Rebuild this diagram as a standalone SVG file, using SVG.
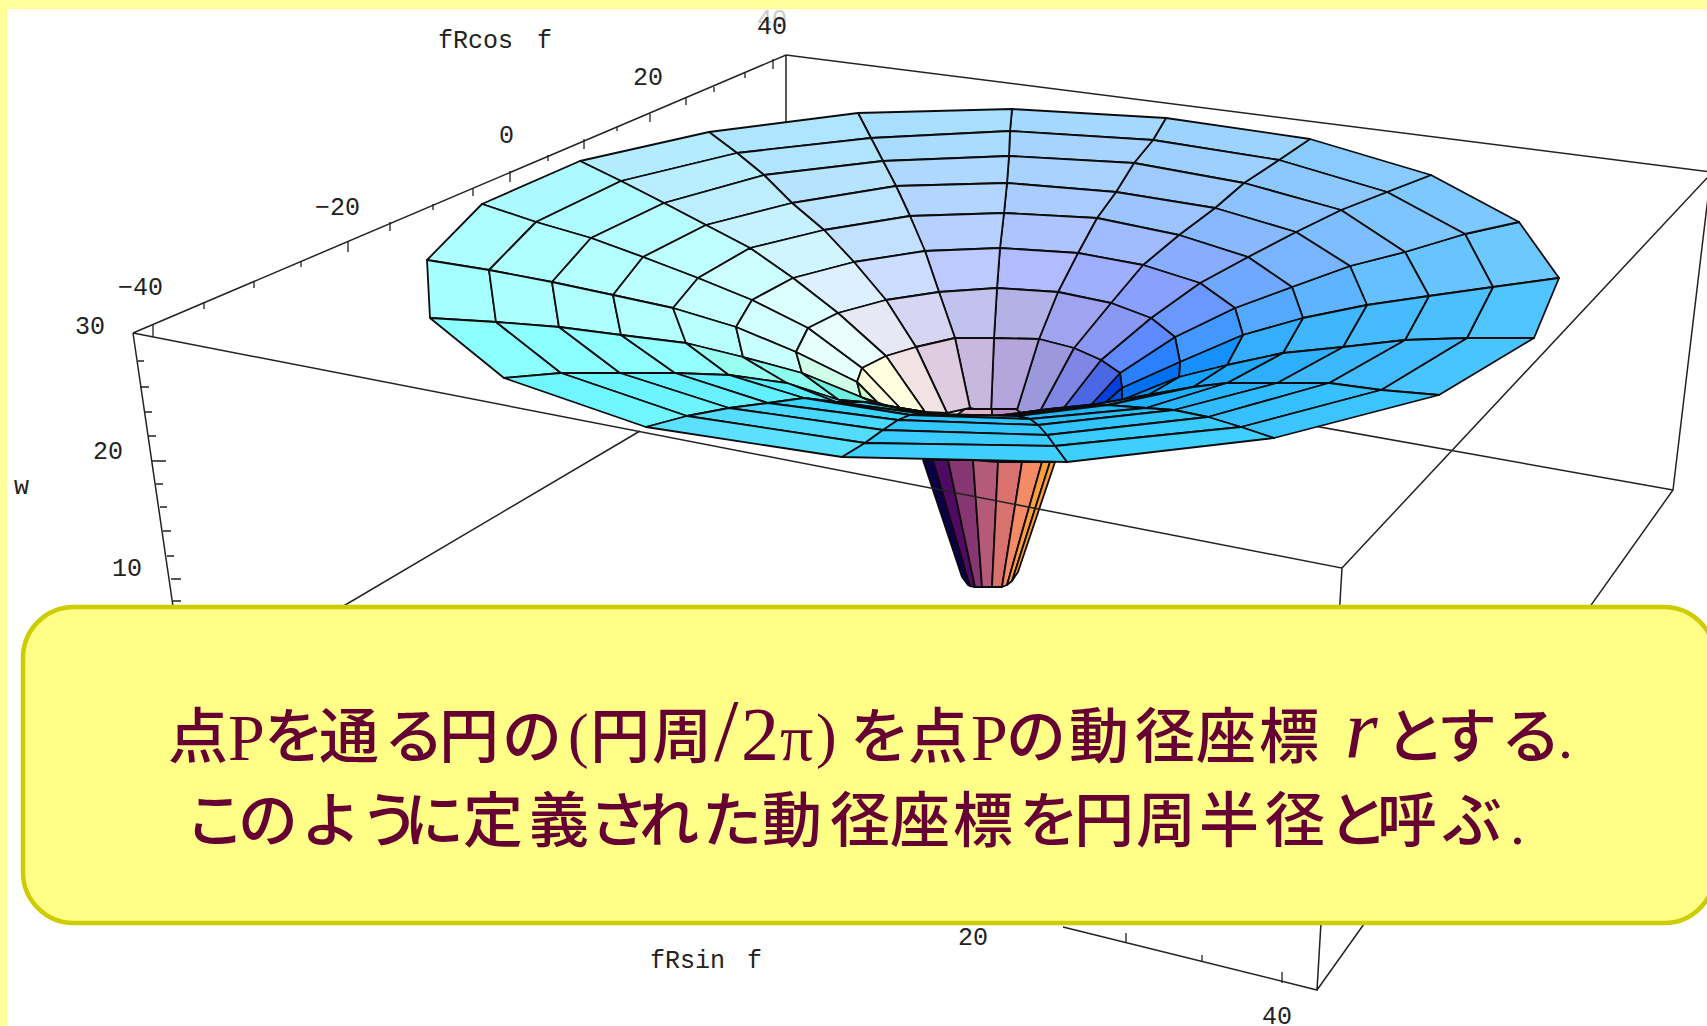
<svg xmlns="http://www.w3.org/2000/svg" width="1707" height="1026" viewBox="0 0 1707 1026">
<style>
.ax{fill:none;stroke:#222;stroke-width:1.5}
.tk{fill:none;stroke:#222;stroke-width:1.3}
.m{stroke:#0c0c0c;stroke-width:1.8;stroke-linejoin:round}
.lb{font-family:"Liberation Mono",monospace;font-size:25px;fill:#222}
.cap{font-family:"Noto Sans CJK JP",sans-serif;font-size:60px;font-weight:500;fill:#660033}
.l{font-family:"Liberation Serif",serif;font-weight:400}
</style>
<rect width="1707" height="1026" fill="#ffff99"/>
<rect x="7" y="9" width="1700" height="1017" fill="#fff"/>
<g id="stem" class="m">
<polygon fill="#0a0048" points="923,460 933,460 970,586 968,585 962,577"/>
<polygon fill="#500a64" points="933,460 948,460 975,587 970,586"/>
<polygon fill="#863670" points="948,460 973,460 982,587 975,587"/>
<polygon fill="#b55a78" points="973,460 998,462 992,587 982,587"/>
<polygon fill="#d9716f" points="998,462 1022,462 1002,587 992,587"/>
<polygon fill="#f58a66" points="1022,462 1042,462 1007,585 1002,587"/>
<polygon fill="#ff9f3c" points="1042,462 1050,462 1012,581 1007,585"/>
<polygon fill="#ff9f3c" points="1050,462 1055,462 1018,572 1012,581"/>
</g>
<g id="axes">
<path class="ax" d="M133,333L786,55L1711,172M786,55V122M133,333L1342,568L1317,990L1063,927M133,333L175,620M640,431L313,624M1707,178L1342,568M1711,172L1673,490L1317,990M1673,490L787,332"/>
<path class="tk" d="M510,171V182M584,139V149M650,114V122M686,98V105M714,87V92M745,73V78M773,59V69M617,127V131M548,155V161M473,188V196M433,204V210M390,222V231M348,242V252M301,261V267M254,282V288M204,302V309M153,325V337"/>
<path class="tk" d="M138,361H144M140,387H149M144,412H152M148,436H156M152,461H166M156,484H163M160,507H167M163,531H171M167,556H174M171,579H181M173,601H181"/>
<path class="tk" d="M1126,933V942M1202,955V962M1282,972V983"/>
</g>
<g id="surface" class="m">
<polygon fill="#6cc8ff" points="1559,278 1519,222 1465,234 1493,287"/>
<polygon fill="#68c4ff" points="1493,287 1465,234 1405,252 1429,296"/>
<polygon fill="#66c0ff" points="1429,296 1405,252 1350,266 1367,305"/>
<polygon fill="#5eb4ff" points="1367,305 1350,266 1292,287 1303,318"/>
<polygon fill="#54a8ff" points="1303,318 1292,287 1235,308 1243,335"/>
<polygon fill="#4298ff" points="1243,335 1235,308 1175,337 1180,362"/>
<polygon fill="#2a80ff" points="1180,362 1175,337 1120,373 1122,388"/>
<polygon fill="#0440e0" points="1122,388 1120,373 1089,407 1105,403"/>

<polygon fill="#7cc8ff" points="1519,222 1431,175 1387,192 1465,234"/>
<polygon fill="#7ec4ff" points="1465,234 1387,192 1341,210 1405,252"/>
<polygon fill="#7cbeff" points="1405,252 1341,210 1296,232 1350,266"/>
<polygon fill="#78b4ff" points="1350,266 1296,232 1248,257 1292,287"/>
<polygon fill="#70a8ff" points="1292,287 1248,257 1200,283 1235,308"/>
<polygon fill="#6a98ff" points="1235,308 1200,283 1151,318 1175,337"/>
<polygon fill="#5f8aff" points="1175,337 1151,318 1101,360 1120,373"/>
<polygon fill="#4a68e4" points="1120,373 1101,360 1062,410 1089,407"/>

<polygon fill="#88ccff" points="1431,175 1310,139 1279,160 1387,192"/>
<polygon fill="#8cc8ff" points="1387,192 1279,160 1244,183 1341,210"/>
<polygon fill="#8cc2ff" points="1341,210 1244,183 1215,208 1296,232"/>
<polygon fill="#88b8ff" points="1296,232 1215,208 1179,235 1248,257"/>
<polygon fill="#88acff" points="1248,257 1179,235 1143,265 1200,283"/>
<polygon fill="#8aa0ff" points="1200,283 1143,265 1111,303 1151,318"/>
<polygon fill="#8a98f4" points="1151,318 1111,303 1074,348 1101,360"/>
<polygon fill="#7f86e4" points="1101,360 1074,348 1039,413 1062,410"/>

<polygon fill="#9cd4ff" points="1310,139 1166,118 1153,140 1279,160"/>
<polygon fill="#9ed0ff" points="1279,160 1153,140 1134,163 1244,183"/>
<polygon fill="#9ecaff" points="1244,183 1134,163 1116,192 1215,208"/>
<polygon fill="#9cc4ff" points="1215,208 1116,192 1097,218 1179,235"/>
<polygon fill="#a0bcff" points="1179,235 1097,218 1078,253 1143,265"/>
<polygon fill="#a0aeff" points="1143,265 1078,253 1058,292 1111,303"/>
<polygon fill="#a0a4f0" points="1111,303 1058,292 1039,339 1074,348"/>
<polygon fill="#9c98dc" points="1074,348 1039,339 1016,413 1039,413"/>

<polygon fill="#a4d8ff" points="1166,118 1012,109 1010,131 1153,140"/>
<polygon fill="#a6d4ff" points="1153,140 1010,131 1009,156 1134,163"/>
<polygon fill="#a8d2ff" points="1134,163 1009,156 1007,183 1116,192"/>
<polygon fill="#aaccff" points="1116,192 1007,183 1004,213 1097,218"/>
<polygon fill="#aec4ff" points="1097,218 1004,213 1000,248 1078,253"/>
<polygon fill="#b0bcff" points="1078,253 1000,248 997,288 1058,292"/>
<polygon fill="#b2b2e6" points="1058,292 997,288 994,338 1039,339"/>
<polygon fill="#b4a6dc" points="1039,339 994,338 991,413 1016,413"/>

<polygon fill="#a8dfff" points="1012,109 858,113 871,138 1010,131"/>
<polygon fill="#aadcff" points="1010,131 871,138 883,161 1009,156"/>
<polygon fill="#aed8ff" points="1009,156 883,161 896,186 1007,183"/>
<polygon fill="#b2d6ff" points="1007,183 896,186 910,216 1004,213"/>
<polygon fill="#b6d0ff" points="1004,213 910,216 925,251 1000,248"/>
<polygon fill="#bccaff" points="1000,248 925,251 939,292 997,288"/>
<polygon fill="#c2c2ee" points="997,288 939,292 955,338 994,338"/>
<polygon fill="#c8b8de" points="994,338 955,338 970,408 991,413"/>

<polygon fill="#aee6ff" points="858,113 709,132 737,153 871,138"/>
<polygon fill="#b0e4ff" points="871,138 737,153 764,175 883,161"/>
<polygon fill="#b6e4ff" points="883,161 764,175 792,203 896,186"/>
<polygon fill="#bce4ff" points="896,186 792,203 824,230 910,216"/>
<polygon fill="#c2e0ff" points="910,216 824,230 854,262 925,251"/>
<polygon fill="#ccdeff" points="925,251 854,262 886,300 939,292"/>
<polygon fill="#d6d6f4" points="939,292 886,300 916,347 955,338"/>
<polygon fill="#e0cce0" points="955,338 916,347 947,413 970,408"/>

<polygon fill="#b4ecff" points="709,132 580,161 621,181 737,153"/>
<polygon fill="#b8eeff" points="737,153 621,181 664,203 764,175"/>
<polygon fill="#bdeeff" points="764,175 664,203 706,225 792,203"/>
<polygon fill="#c6f2ff" points="792,203 706,225 750,248 824,230"/>
<polygon fill="#cff5ff" points="824,230 750,248 793,278 854,262"/>
<polygon fill="#dcf0ff" points="854,262 793,278 838,313 886,300"/>
<polygon fill="#e8e8f5" points="886,300 838,313 886,356 916,347"/>
<polygon fill="#f2e2e4" points="916,347 886,356 925,412 947,413"/>

<polygon fill="#acf9ff" points="580,161 482,204 536,222 621,181"/>
<polygon fill="#aefbff" points="621,181 536,222 591,238 664,203"/>
<polygon fill="#b6fcff" points="664,203 591,238 643,257 706,225"/>
<polygon fill="#beffff" points="706,225 643,257 698,278 750,248"/>
<polygon fill="#ccffff" points="750,248 698,278 752,300 793,278"/>
<polygon fill="#dcffff" points="793,278 752,300 808,328 838,313"/>
<polygon fill="#eafeff" points="838,313 808,328 862,368 886,356"/>
<polygon fill="#ffffe0" points="886,356 862,368 900,408 925,412"/>

<polygon fill="#aefeff" points="482,204 427,260 489,270 536,222"/>
<polygon fill="#b0ffff" points="536,222 489,270 552,282 591,238"/>
<polygon fill="#b4ffff" points="591,238 552,282 613,295 643,257"/>
<polygon fill="#bcffff" points="643,257 613,295 673,308 698,278"/>
<polygon fill="#c4ffff" points="698,278 673,308 736,327 752,300"/>
<polygon fill="#d2ffff" points="752,300 736,327 796,352 808,328"/>
<polygon fill="#e6ffff" points="808,328 796,352 857,382 862,368"/>
<polygon fill="#ffffe0" points="862,368 857,382 880,405 900,408"/>

<polygon fill="#e2b4c8" points="953,418 965,409 992,409 992,418"/>
<polygon fill="#bc8cc4" points="992,418 992,409 1016,409 1027,418"/>

<polygon fill="#a6ffff" points="427,260 430,318 496,322 489,270"/>
<polygon fill="#acffff" points="489,270 496,322 559,327 552,282"/>
<polygon fill="#aeffff" points="552,282 559,327 621,335 613,295"/>
<polygon fill="#b4ffff" points="613,295 621,335 686,343 673,308"/>
<polygon fill="#b8ffff" points="673,308 686,343 743,357 736,327"/>
<polygon fill="#c8ffff" points="736,327 743,357 802,373 796,352"/>
<polygon fill="#d0ffe8" points="796,352 802,373 861,397 857,382"/>
<polygon fill="#c8ffc8" points="857,382 861,397 885,405 880,405"/>

<polygon fill="#50c4ff" points="1559,278 1534,338 1467,338 1493,287"/>
<polygon fill="#4cc0ff" points="1493,287 1467,338 1405,340 1429,296"/>
<polygon fill="#46bcff" points="1429,296 1405,340 1343,347 1367,305"/>
<polygon fill="#40b6ff" points="1367,305 1343,347 1283,353 1303,318"/>
<polygon fill="#36aeff" points="1303,318 1283,353 1227,365 1243,335"/>
<polygon fill="#1690ff" points="1243,335 1227,365 1179,377 1180,362"/>
<polygon fill="#0070f0" points="1180,362 1179,377 1122,400 1122,388"/>
<polygon fill="#0050e0" points="1122,388 1122,400 1100,406 1105,403"/>

<polygon fill="#8cffff" points="430,318 504,378 561,373 496,322"/>
<polygon fill="#8cffff" points="496,322 561,373 620,373 559,327"/>
<polygon fill="#90ffff" points="559,327 620,373 675,373 621,335"/>
<polygon fill="#94ffff" points="621,335 675,373 729,375 686,343"/>
<polygon fill="#98fff0" points="686,343 729,375 787,383 743,357"/>
<polygon fill="#8cffee" points="743,357 787,383 839,400 802,373"/>
<polygon fill="#6ef0e0" points="802,373 839,400 879,405 861,397"/>
<polygon fill="#66eedd" points="861,397 879,405 900,408 885,405"/>

<polygon fill="#48c4ff" points="1534,338 1439,395 1381,390 1467,338"/>
<polygon fill="#42bcff" points="1467,338 1381,390 1329,383 1405,340"/>
<polygon fill="#3cb8ff" points="1405,340 1329,383 1277,383 1343,347"/>
<polygon fill="#2eb0ff" points="1343,347 1277,383 1227,383 1283,353"/>
<polygon fill="#22a8ff" points="1283,353 1227,383 1193,387 1227,365"/>
<polygon fill="#14a0ff" points="1227,365 1193,387 1148,395 1179,377"/>
<polygon fill="#0a90f0" points="1179,377 1148,395 1117,402 1122,400"/>
<polygon fill="#0a90f0" points="1122,400 1117,402 1090,407 1100,406"/>

<polygon fill="#40d8e8" points="879,405 900,408 925,412 900,408"/>
<polygon fill="#48e0f0" points="839,400 864,402 900,408 879,405"/>
<polygon fill="#50e8f8" points="787,383 836,402 864,402 839,400"/>
<polygon fill="#58ecff" points="729,375 804,398 836,402 787,383"/>
<polygon fill="#60f0ff" points="675,373 768,403 804,398 729,375"/>
<polygon fill="#68f2ff" points="620,373 729,408 768,403 675,373"/>
<polygon fill="#6cf4ff" points="561,373 687,416 729,408 620,373"/>
<polygon fill="#70f6ff" points="504,378 646,427 687,416 561,373"/>

<polygon fill="#10a0e8" points="1117,402 1050,409 1020,413 1090,407"/>
<polygon fill="#14a4f0" points="1148,395 1080,407 1050,409 1117,402"/>
<polygon fill="#1aaaf4" points="1193,387 1108,405 1080,407 1148,395"/>
<polygon fill="#1eaeff" points="1227,383 1146,408 1108,405 1193,387"/>
<polygon fill="#28b4ff" points="1277,383 1174,410 1146,408 1227,383"/>
<polygon fill="#30baff" points="1329,383 1208,417 1174,410 1277,383"/>
<polygon fill="#36c0ff" points="1381,390 1241,427 1208,417 1329,383"/>
<polygon fill="#3cc4ff" points="1439,395 1274,438 1241,427 1381,390"/>

<polygon fill="#2cc8f0" points="900,408 945,416 955,417 925,412"/>
<polygon fill="#2cc8f0" points="864,402 935,415 945,416 900,408"/>
<polygon fill="#30ccf8" points="836,402 925,414 935,415 864,402"/>
<polygon fill="#34d0fc" points="804,398 910,415 925,414 836,402"/>
<polygon fill="#38d4ff" points="768,403 898,420 910,415 804,398"/>
<polygon fill="#46d8ff" points="729,408 883,430 898,420 768,403"/>
<polygon fill="#54dcff" points="687,416 865,443 883,430 729,408"/>
<polygon fill="#5ce0ff" points="646,427 842,457 865,443 687,416"/>

<polygon fill="#10a8e8" points="1050,409 995,416 985,417 1020,413"/>
<polygon fill="#12a8ec" points="1080,407 1005,416 995,416 1050,409"/>
<polygon fill="#18aef0" points="1108,405 1017,416 1005,416 1080,407"/>
<polygon fill="#20b6f8" points="1146,408 1030,419 1017,416 1108,405"/>
<polygon fill="#2abfff" points="1174,410 1038,425 1030,419 1146,408"/>
<polygon fill="#30c4ff" points="1208,417 1047,435 1038,425 1174,410"/>
<polygon fill="#38cbff" points="1241,427 1055,446 1047,435 1208,417"/>
<polygon fill="#3ecfff" points="1274,438 1067,462 1055,446 1241,427"/>

<polygon fill="#18b4e8" points="985,417 955,417 945,416 995,416"/>
<polygon fill="#1cb8ee" points="995,416 945,416 935,415 1005,416"/>
<polygon fill="#20bcf4" points="1005,416 935,415 925,414 1017,416"/>
<polygon fill="#26c0f8" points="1017,416 925,414 910,415 1030,419"/>
<polygon fill="#2cc4fc" points="1030,419 910,415 898,420 1038,425"/>
<polygon fill="#32c8ff" points="1038,425 898,420 883,430 1047,435"/>
<polygon fill="#3accff" points="1047,435 883,430 865,443 1055,446"/>
<polygon fill="#40d0ff" points="1055,446 865,443 842,457 1067,462"/>
</g>
<g id="axis-labels" class="lb">
<text x="757" y="27" style="fill:#ccc">40</text>
<text x="438" y="48">fRcos<tspan x="537">f</tspan></text>
<text x="757" y="34">40</text>
<text x="633" y="85">20</text>
<text x="499" y="143">0</text>
<text x="315" y="215">−20</text>
<text x="118" y="295">−40</text>
<text x="75" y="334">30</text>
<text x="93" y="459">20</text>
<text x="112" y="576">10</text>
<text x="14" y="494">w</text>
<text x="650" y="968">fRsin<tspan x="747">f</tspan></text>
<text x="958" y="945">20</text>
<text x="1262" y="1024">40</text>
</g>
<g id="note">
<rect x="23" y="607" width="1692" height="316" rx="51" ry="51" fill="#ffff88" stroke="#cccc00" stroke-width="4.5"/>
<text class="cap" y="758"><tspan x="168">点</tspan><tspan class="l" font-size="66" x="228" y="760">P</tspan><tspan x="264 319 384 439 502" y="758">を通る円の</tspan><tspan class="l" font-size="62" x="568" y="756">(</tspan><tspan x="590 652" y="758">円周</tspan><tspan class="l" font-size="88" x="714" y="760">/</tspan><tspan class="l" font-size="76" x="741" y="760">2</tspan><tspan class="l" font-size="66" x="780" y="760">π</tspan><tspan class="l" font-size="62" x="816" y="756">)</tspan><tspan x="850 908" y="758">を点</tspan><tspan class="l" font-size="66" x="971" y="760">P</tspan><tspan x="1006 1069 1135 1196 1259" y="758">の動径座標</tspan><tspan class="l" font-size="84" font-style="italic" x="1345" y="758">r</tspan><tspan x="1385 1437 1501" y="758">とする</tspan><tspan class="l" x="1558" y="758">.</tspan></text>
<text class="cap" y="842"><tspan x="185 238 301 360 404 463 529 589 639 702 762 830 890 953 1019 1074 1136 1199 1265 1328 1377 1442">このように定義された動径座標を円周半径と呼ぶ</tspan><tspan class="l" x="1510" y="844">.</tspan></text>
</g>
</svg>
